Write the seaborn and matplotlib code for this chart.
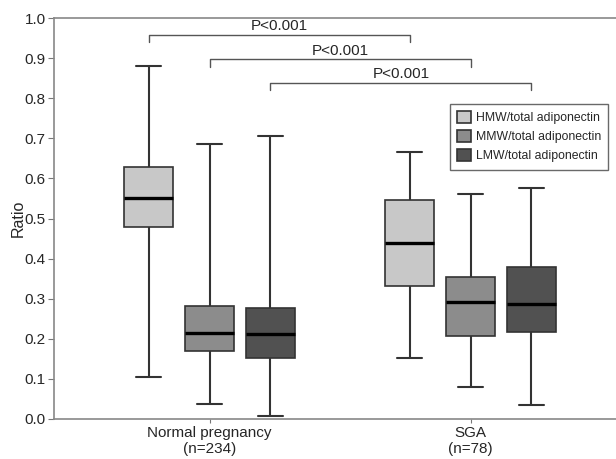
import numpy as np
import pandas as pd
import matplotlib
matplotlib.use("Agg")
import matplotlib.pyplot as plt
import seaborn as sns

groups = ["Normal pregnancy\n(n=234)", "SGA\n(n=78)"]
series = ["HMW/total adiponectin", "MMW/total adiponectin", "LMW/total adiponectin"]
# five-number summaries: [min, q1, median, q3, max]
normal_hmw = [0.105, 0.479, 0.551, 0.628, 0.880]
normal_mmw = [0.037, 0.170, 0.214, 0.282, 0.687]
normal_lmw = [0.008, 0.152, 0.212, 0.277, 0.705]
sga_hmw = [0.153, 0.331, 0.439, 0.545, 0.667]
sga_mmw = [0.079, 0.208, 0.292, 0.353, 0.561]
sga_lmw = [0.035, 0.217, 0.287, 0.380, 0.576]
colors = ["#c8c8c8", "#8c8c8c", "#515151"]
pvals = ["P<0.001", "P<0.001", "P<0.001"]
bracket_y = [0.958, 0.897, 0.839]

rows = []
for g, vals_list in zip(groups, [[normal_hmw, normal_mmw, normal_lmw], [sga_hmw, sga_mmw, sga_lmw]]):
    for s, vals in zip(series, vals_list):
        for v in vals:
            rows.append({"group": g, "series": s, "value": v})
df = pd.DataFrame(rows)

sns.set_style("ticks")
plt.rcParams["font.family"] = ["Liberation Sans", "DejaVu Sans"]

fig = plt.figure(figsize=(6.16, 4.59), dpi=100)
ax = fig.add_axes([54/616, 1 - 419/459, 1 - 54/616, (419 - 18)/459])

width = 0.70
sns.boxplot(data=df, x="group", y="value", hue="series", order=groups, hue_order=series,
            palette=colors, whis=(0, 100), width=width, gap=0.2, ax=ax,
            linecolor="#333333", linewidth=1.3,
            medianprops=dict(color="black", linewidth=2.4),
            whiskerprops=dict(color="#333333", linewidth=1.5),
            capprops=dict(color="#333333", linewidth=1.5),
            boxprops=dict(edgecolor="#333333", linewidth=1.2))

ax.set_ylim(0, 1.0)
ax.set_xlim((54 - 209.5)/261, (616 - 209.5)/261)
ax.set_yticks(np.arange(0, 1.01, 0.1))
ax.set_yticklabels([f"{t:.1f}" for t in np.arange(0, 1.01, 0.1)], fontsize=11)
ax.tick_params(axis="x", labelsize=11, length=3, color="#777777", pad=2)
ax.tick_params(axis="y", length=4, color="#777777", pad=2)
ax.set_xlabel("")
ax.set_ylabel("Ratio", fontsize=11.5)
ax.yaxis.set_label_coords(-0.05, 0.5)
for side in ["left", "bottom", "top"]:
    ax.spines[side].set_visible(True)
    ax.spines[side].set_color("#888888")
    ax.spines[side].set_linewidth(1.2)
ax.spines["right"].set_visible(False)

# significance brackets
off = width / 3
for i, (y, p) in enumerate(zip(bracket_y, pvals)):
    x0 = 0 + (i - 1) * off
    x1 = 1 + (i - 1) * off
    ax.plot([x0, x0, x1, x1], [y - 0.018, y, y, y - 0.018], color="#555555", lw=1.0, clip_on=False)
    ax.text((x0 + x1) / 2, y + 0.004, p, ha="center", va="bottom", fontsize=11)

handles, labels = ax.get_legend_handles_labels()
ax.legend(handles, labels, loc="upper right", bbox_to_anchor=(0.986, 0.786), borderaxespad=0,
          fontsize=8.8, frameon=True, fancybox=False, edgecolor="#444444",
          handlelength=1.1, handleheight=1.1, handletextpad=0.4, labelspacing=0.5,
          borderpad=0.6)
ax.get_legend().get_frame().set_linewidth(1.0)

fig.savefig("out.png", dpi=100)
